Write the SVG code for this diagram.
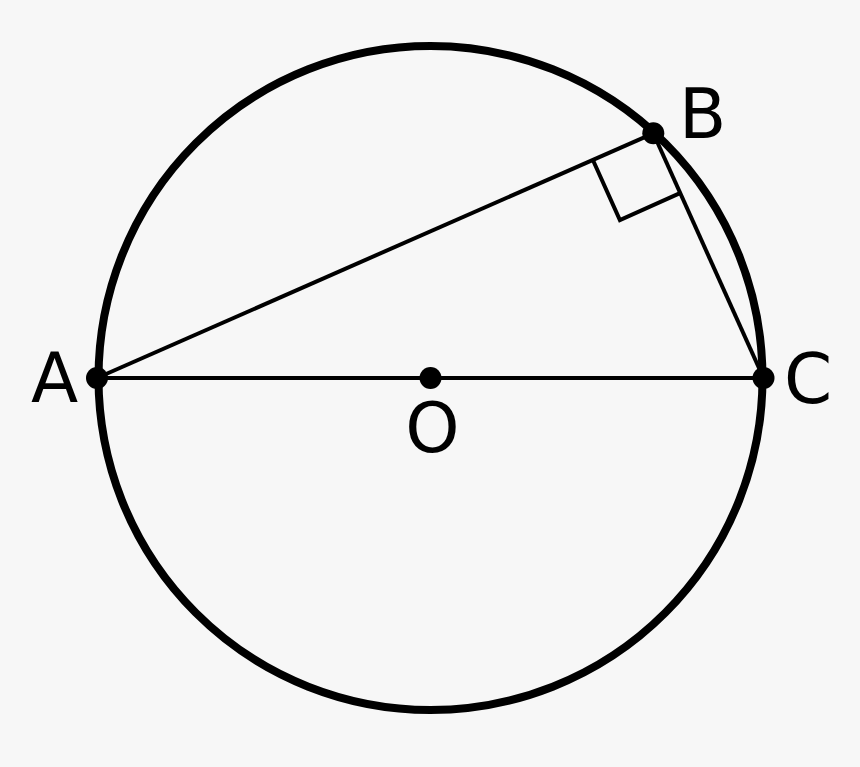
<svg xmlns="http://www.w3.org/2000/svg" width="860" height="767" viewBox="0 0 860 767">
<style>
.lbl{font-family:"DejaVu Sans","Liberation Sans",sans-serif;font-size:69px;fill:#000}
.ln{stroke:#000;stroke-width:4;fill:none}
.pt{fill:#000}
</style>
<rect width="860" height="767" fill="#f7f7f7"/>
<g id="circle"><circle cx="430.5" cy="378" r="332" fill="none" stroke="#000" stroke-width="8"/></g>
<g id="connectors">
<line class="ln" x1="97" y1="378" x2="763.5" y2="378"/>
<line class="ln" x1="97" y1="378" x2="653.3" y2="133.3"/>
<line class="ln" x1="653.3" y1="133.3" x2="763.5" y2="378"/>
<polyline class="ln" points="592.9,160 619.9,220.1 680,193.1"/>
</g>
<g id="A"><circle class="pt" cx="97" cy="378" r="11"/><text class="lbl" x="31" y="402">A</text></g>
<g id="B"><circle class="pt" cx="653.3" cy="133.3" r="11"/><text class="lbl" x="679" y="138">B</text></g>
<g id="C"><circle class="pt" cx="763.5" cy="378" r="11"/><text class="lbl" x="784" y="403">C</text></g>
<g id="O"><circle class="pt" cx="430.5" cy="378" r="11"/><text class="lbl" x="432.5" y="452" text-anchor="middle">O</text></g>
</svg>
